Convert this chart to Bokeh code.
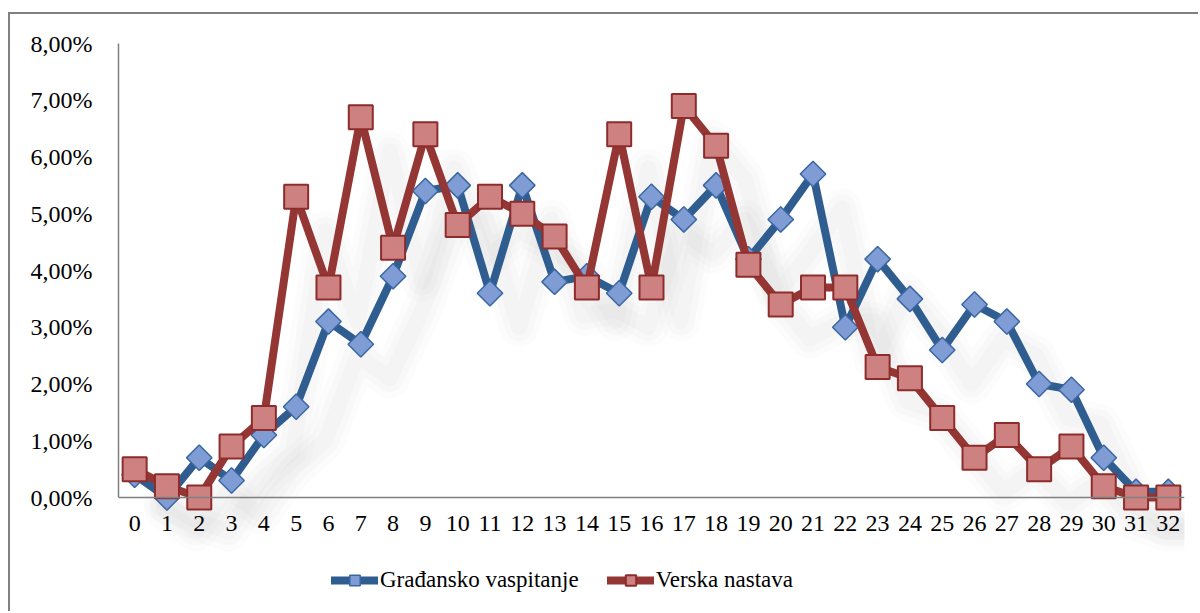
import numpy as np
from bokeh.plotting import figure
from bokeh.models import Range1d, FixedTicker, Legend, LegendItem, ColumnDataSource
from bokeh.embed import file_html
from bokeh.resources import INLINE

# ---- data ----
categories = list(range(33))
gradjansko = [0.4, 0.0, 0.7, 0.3, 1.1, 1.6, 3.1, 2.7, 3.9, 5.4, 5.5, 3.6, 5.5, 3.8, 3.9, 3.6,
              5.3, 4.9, 5.5, 4.2, 4.9, 5.7, 3.0, 4.2, 3.5, 2.6, 3.4, 3.1, 2.0, 1.9, 0.7, 0.1, 0.1]
verska = [0.5, 0.2, 0.0, 0.9, 1.4, 5.3, 3.7, 6.7, 4.4, 6.4, 4.8, 5.3, 5.0, 4.6, 3.7, 6.4,
          3.7, 6.9, 6.2, 4.1, 3.4, 3.7, 3.7, 2.3, 2.1, 1.4, 0.7, 1.1, 0.5, 0.9, 0.2, 0.0, 0.0]
series_names = ["Građansko vaspitanje", "Verska nastava"]
y_ticks = [0, 1, 2, 3, 4, 5, 6, 7, 8]
y_tick_labels = ["0,00%", "1,00%", "2,00%", "3,00%", "4,00%", "5,00%", "6,00%", "7,00%", "8,00%"]

FONT = "Liberation Serif"
BLUE = "#2F5D8F"
BLUE_FILL = "#7F9DD4"
BLUE_EDGE = "#3A67A3"
RED = "#943634"
RED_FILL = "#CD8281"
RED_EDGE = "#8E2C2C"

# frame extends down to the canvas bottom so the legend can sit inside it;
# the x axis is pinned at y = 0
p = figure(width=1190, height=599, output_backend="svg", toolbar_location=None,
           x_range=Range1d(-0.5, 32.5), y_range=Range1d(-2.044, 8),
           min_border_left=108, min_border_top=29, min_border_right=16, min_border_bottom=0)
p.styles = {"margin-left": "8px", "margin-top": "12px",
            "border-left": "2px solid #808080", "border-top": "2px solid #808080"}
p.outline_line_color = None
p.xgrid.visible = False
p.ygrid.visible = False
p.background_fill_color = "white"
p.border_fill_color = "white"

# soft shadows (offset copies of the series)
x = np.array(categories, dtype=float)
for ys in (gradjansko, verska):
    yy = np.array(ys)
    for w, a in ((40, 0.011), (28, 0.014), (16, 0.016)):
        p.line(x + 0.9, yy - 0.6, line_width=w, line_alpha=a, line_color="black",
               line_join="round", line_cap="round")

src_g = ColumnDataSource(dict(x=categories, y=gradjansko))
src_v = ColumnDataSource(dict(x=categories, y=verska))

lg = p.line("x", "y", source=src_g, line_width=8, line_color=BLUE, line_join="round", line_cap="round")
mg = p.scatter("x", "y", source=src_g, marker="square", angle=np.pi / 4, size=18,
               fill_color=BLUE_FILL, line_color=BLUE_EDGE, line_width=1.5)
lv = p.line("x", "y", source=src_v, line_width=8, line_color=RED, line_join="round", line_cap="round")
mv = p.scatter("x", "y", source=src_v, marker="square", size=24,
               fill_color=RED_FILL, line_color=RED_EDGE, line_width=2)

# axes
p.yaxis.ticker = FixedTicker(ticks=y_ticks)
p.yaxis.bounds = (0, 8)
p.yaxis.major_label_overrides = {t: lab for t, lab in zip(y_ticks, y_tick_labels)}
p.yaxis.major_tick_line_color = None
p.yaxis.minor_tick_line_color = None
p.yaxis.axis_line_color = "#808080"
p.yaxis.axis_line_width = 1.5
p.yaxis.major_label_standoff = 20
p.yaxis.major_label_text_font = FONT
p.yaxis.major_label_text_font_size = "24px"
p.yaxis.major_label_text_color = "black"

p.xaxis.fixed_location = 0
p.xaxis.ticker = FixedTicker(ticks=categories)
p.xaxis.major_tick_line_color = None
p.xaxis.minor_tick_line_color = None
p.xaxis.axis_line_color = "#808080"
p.xaxis.axis_line_width = 1.5
p.xaxis.major_label_standoff = 12
p.xaxis.major_label_text_font = FONT
p.xaxis.major_label_text_font_size = "24px"
p.xaxis.major_label_text_color = "black"

legend = Legend(items=[LegendItem(label=series_names[0], renderers=[lg, mg]),
                       LegendItem(label=series_names[1], renderers=[lv, mv])],
                orientation="horizontal", location=(213, 20),
                label_text_font=FONT, label_text_font_size="23px", label_text_color="black",
                glyph_width=47, glyph_height=26, spacing=28, padding=0, margin=0,
                border_line_color=None, background_fill_alpha=0, label_standoff=2)
p.add_layout(legend, "center")

open("out.html", "w").write(file_html(p, INLINE))
